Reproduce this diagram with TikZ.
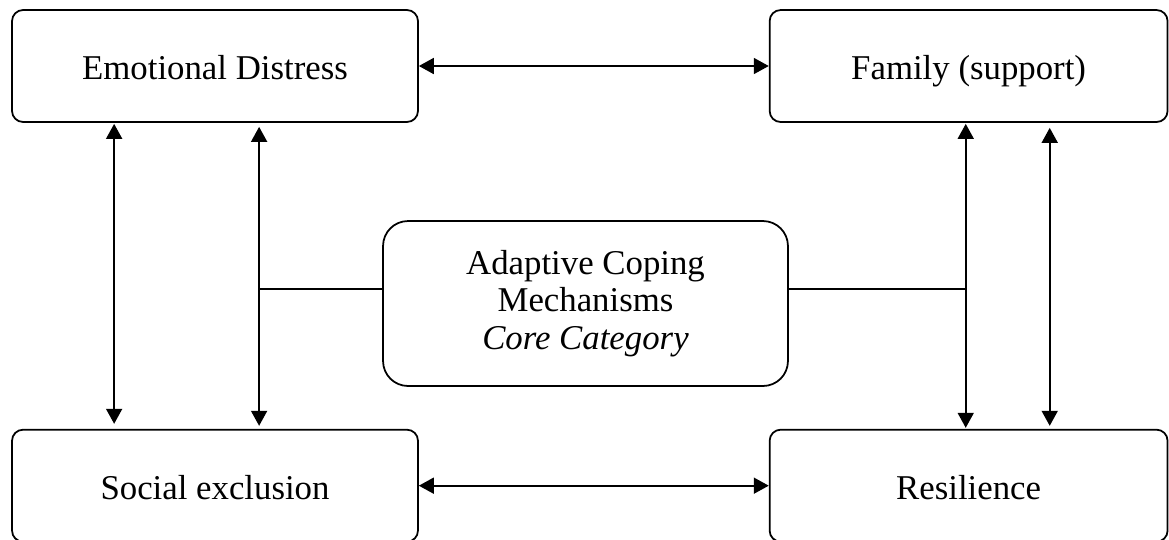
\documentclass[tikz,border=0pt]{standalone}
\usepackage{fontspec}
\setmainfont{Liberation Serif}
\usetikzlibrary{arrows.meta, positioning}

\begin{document}
\begin{tikzpicture}[x=0.02cm, y=-0.02cm,
    frame/.style = {draw, line width=1pt, inner sep=0pt, align=center,
                    font=\fontsize{19.8}{21.2}\selectfont},
    box/.style = {frame, rounded corners=0.22cm, minimum width=8.12cm, minimum height=2.24cm,
                  text height=0.54cm, text depth=0pt},
    core/.style = {frame, rounded corners=0.5cm, minimum width=8.1cm, minimum height=3.3cm},
    link/.style = {line width=1pt, {Triangle[width=0.32cm, length=0.3cm]}-{Triangle[width=0.32cm, length=0.3cm]}}]
    \useasboundingbox (0,0) rectangle (1169,539);

    \node (ed) [box] at (215,66) {Emotional Distress};
    \node (fam) [box, minimum width=7.96cm, right=7cm of ed] {Family (support)};
    \node (soc) [box, below=6.12cm of ed] {Social exclusion};
    \node (res) [box, minimum width=7.96cm, below=6.12cm of fam] {Resilience};
    \node (cc) [core] at (585.5,303.5) {Adaptive Coping\\Mechanisms\\\textit{Core Category}};

    \coordinate (jl) at (260,289);
    \coordinate (jr) at (965,289);

    \draw[link] (ed.east) -- (ed.east -| fam.west);
    \draw[link] (soc.east) -- (soc.east -| res.west);
    \draw[link, shorten <=0.02cm, shorten >=0.1cm] ([xshift=2.06cm]ed.south west) -- ([xshift=2.06cm]soc.north west);
    \draw[link, shorten <=0.08cm, shorten >=0.06cm] ([xshift=4.96cm]ed.south west) -- ([xshift=4.96cm]soc.north west);
    \draw[link, shorten <=0.02cm, shorten >=0.02cm] ([xshift=3.94cm]fam.south west) -- ([xshift=3.94cm]res.north west);
    \draw[link, shorten <=0.1cm, shorten >=0.06cm] ([xshift=5.62cm]fam.south west) -- ([xshift=5.62cm]res.north west);

    \draw[line width=1pt] (jl) -- (jl -| cc.west);
    \draw[line width=1pt] (cc.east |- jr) -- (jr);
\end{tikzpicture}
\end{document}
